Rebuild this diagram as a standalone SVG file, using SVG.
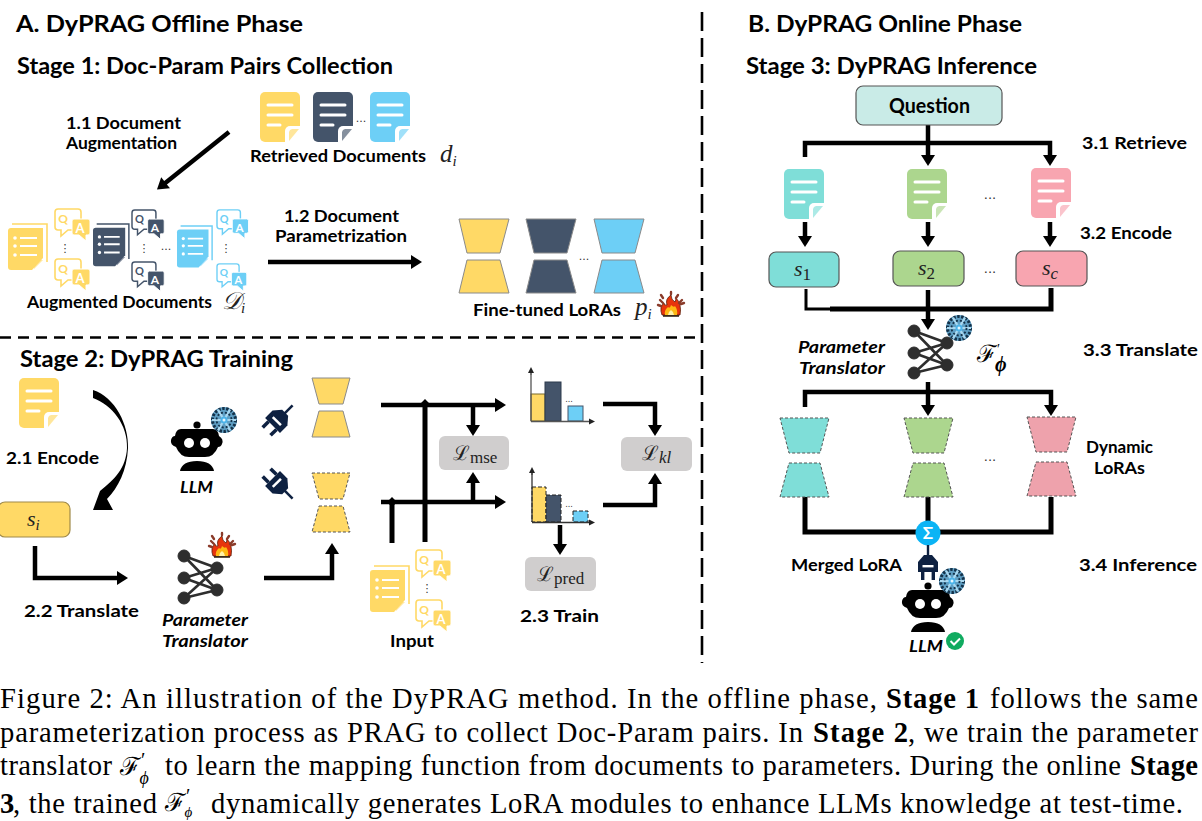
<svg xmlns="http://www.w3.org/2000/svg" xmlns:xlink="http://www.w3.org/1999/xlink" width="1202" height="821" viewBox="0 0 1202 821">
<style>
text{font-family:"Lato","Noto Sans","DejaVu Sans",sans-serif;fill:#000}
.h{font-size:23px;font-weight:700}
.l{font-size:17px;font-weight:700}
.i{font-size:17px;font-weight:700;font-style:italic}
.m{font-family:"Liberation Serif","DejaVu Serif",serif;font-style:italic;font-size:22px;fill:#222}
.mr{font-family:"Liberation Serif","DejaVu Serif",serif;font-style:normal}
.c{font-family:"Liberation Serif",serif;font-size:28.6px}
.cb{font-family:"Liberation Serif",serif;font-size:28.6px;font-weight:700}
.cm{font-family:"Liberation Serif","DejaVu Serif",serif;font-style:normal;font-size:25px}
.q{font-size:12px;font-weight:700;text-anchor:middle}
.a{font-size:13px;font-weight:700;text-anchor:middle;fill:#fff}
.d{font-size:11px;font-family:"DejaVu Sans",sans-serif;fill:#333;text-anchor:middle}
.ar{fill:none;stroke:#000;stroke-width:4.5;marker-end:url(#arr)}
.ln{fill:none;stroke:#000;stroke-width:5}
.sep{fill:none;stroke:#000;stroke-width:2.6}
.box{stroke-width:1.2;stroke:#555}
.loss{fill:#d0cece}
.ls{stroke:#8a8a8a;stroke-width:1}
.ld{stroke:#555;stroke-width:1;stroke-dasharray:3 2}
</style>
<defs>
<marker id="arr" markerUnits="userSpaceOnUse" markerWidth="14" markerHeight="16" refX="2" refY="7" orient="auto" overflow="visible"><path d="M0 0L11 7L0 14z" fill="#000"/></marker>
<marker id="sm" markerUnits="userSpaceOnUse" markerWidth="8" markerHeight="8" refX="1" refY="3" orient="auto" overflow="visible"><path d="M0 0L6 3L0 6z" fill="#222"/></marker>
<g id="doc">
<path d="M5 0H35a5 5 0 0 1 5 5V37L28 50H5a5 5 0 0 1-5-5V5a5 5 0 0 1 5-5z" fill="currentColor"/>
<path d="M8 13H32M8 23H32M8 33H20" stroke="#fff" stroke-width="3" stroke-linecap="round" fill="none"/>
<path d="M40 34H30a5 5 0 0 0-5 5V50H29L40 38z" fill="#fff"/>
<path d="M39 37H32a4 4 0 0 0-3 3V49z" fill="currentColor" fill-opacity=".65"/>
</g>
<g id="stack">
<path d="M4 0H39V38" fill="none" stroke="currentColor" stroke-width="1.6"/>
<path d="M3 4H35V34L24 46H3a3 3 0 0 1-3-3V7a3 3 0 0 1 3-3z" fill="currentColor"/>
<path d="M35 36H26V45z" fill="currentColor" fill-opacity=".6"/>
<path d="M12 14H29M12 22H29M12 31H29" stroke="#fff" stroke-width="2" fill="none"/>
<circle cx="7" cy="14" r="1.8" fill="#fff"/><circle cx="7" cy="22" r="1.8" fill="#fff"/><circle cx="7" cy="31" r="1.8" fill="#fff"/>
</g>
<g id="qa">
<path d="M3 1H23a3 3 0 0 1 3 3V19a3 3 0 0 1-3 3H13L6 28V22H3a3 3 0 0 1-3-3V4a3 3 0 0 1 3-3z" fill="#fff" stroke="currentColor" stroke-width="1.6"/>
<path d="M19 11H33a2 2 0 0 1 2 2V25a2 2 0 0 1-2 2H31V33L24 27H19a2 2 0 0 1-2-2V13a2 2 0 0 1 2-2z" fill="currentColor" stroke="#fff" stroke-width="1"/>
</g>
<g id="lora1"><polygon points="0,0 50,0 41,34 8,34"/><polygon points="8,41 41,41 50,74 0,74"/></g>
<g id="lora2"><polygon points="0,0 38,0 31,26 7,26"/><polygon points="7,33 31,33 38,59 0,59"/></g>
<g id="lora3"><polygon points="0,0 49,0 40,35 9,35"/><polygon points="9,45 40,45 49,79 0,79"/></g>
<g id="net" fill="#2e2e2e" stroke="#2e2e2e">
<path d="M0 0L33 12M0 0L33 34M0 22L33 12M0 22L33 34M0 42L33 12M0 42L33 34" stroke-width="2.6" fill="none"/>
<circle cx="0" cy="0" r="6"/><circle cx="0" cy="22" r="6"/><circle cx="0" cy="42" r="6"/><circle cx="33" cy="12" r="6"/><circle cx="33" cy="34" r="6"/>
</g>
<g id="bot">
<circle cx="0" cy="-17" r="3.6" fill="#000"/>
<path d="M-16 -13H16Q21 -13 22 -6Q27 -3 25 2Q24 5 21 5Q17 15 8 15H-8Q-17 15 -21 5Q-27 3 -26 -2Q-25 -6 -22 -6Q-21 -13 -16 -13z" fill="#000"/>
<circle cx="-8" cy="1" r="5" fill="#fff"/><circle cx="8" cy="1" r="5" fill="#fff"/>
<path d="M-17 29Q-15 19 0 19Q15 19 17 29z" fill="#000"/>
</g>
<g id="snow">
<circle r="13" fill="#5f9fc4"/>
<circle r="11.500" fill="none" stroke="#14324a" stroke-width="3" stroke-dasharray="2.500 1.500"/>
<path d="M-12 0H12M-6-10.400L6 10.400M-6 10.400L6-10.400" stroke="#a9d8f0" stroke-width="2.200"/>
<circle r="7.500" fill="none" stroke="#14324a" stroke-width="1.800" stroke-dasharray="2 2"/>
<circle r="3.500" fill="#4db4ea"/>
<circle r="1.500" fill="#e6f6ff"/>
</g>
<g id="fire">
<path d="M-9 9Q-12 1-7-3Q-7 0-4-1Q-6-7 0-11Q0-6 4-4Q5-6 5-8Q11-2 9 9z" fill="#e8340c" stroke="#5a1a08" stroke-width=".8"/>
<path d="M-6 9Q-7 4-3 1Q-1 3 0-1Q3 2 4 0Q7 4 6 9z" fill="#fdb813"/>
<path d="M-3 9Q-3 6 0 4Q3 6 3 9z" fill="#fff2a8"/>
<rect x="-8" y="9" width="16" height="1.800" fill="#3a2a1a"/>
<path d="M-11-6l3 3M-10-11l2 3M11-6l-3 3M10-2l3-1M7-11l-2 3M-13-1l3 1M0-14l0 2" stroke="#8a3b2a" stroke-width="2.400" stroke-linecap="round"/>
</g>
<g id="plug" fill="#0e2141">
<path d="M0-21V-10" stroke="#0e2141" stroke-width="2.400"/>
<path d="M-10 6V-4L-4-11H4L10-4V6z"/>
<rect x="-7" y="6" width="3.400" height="8"/><rect x="3.600" y="6" width="3.400" height="8"/>
<rect x="-5.500" y="-1" width="11" height="2.400" fill="#fff"/>
</g>
</defs>
<rect width="1202" height="821" fill="#fff"/>

<g id="separators">
<path class="sep" stroke-dasharray="11 7" d="M0 337.500H702"/>
<path class="sep" stroke-dasharray="19 7" d="M702 12V663"/>
</g>

<g id="titles">
<text class="h" x="16" y="32" textLength="287" lengthAdjust="spacingAndGlyphs">A. DyPRAG Offline Phase</text>
<text class="h" x="17" y="74" textLength="376" lengthAdjust="spacingAndGlyphs">Stage 1: Doc-Param Pairs Collection</text>
<text class="h" x="20" y="367" textLength="273" lengthAdjust="spacingAndGlyphs">Stage 2: DyPRAG Training</text>
<text class="h" x="748" y="32" textLength="274" lengthAdjust="spacingAndGlyphs">B. DyPRAG Online Phase</text>
<text class="h" x="746" y="74" textLength="291" lengthAdjust="spacingAndGlyphs">Stage 3: DyPRAG Inference</text>
</g>

<g id="connectors">
<path class="ar" d="M229 132L164 184"/>
<path class="ar" d="M268 262H413"/>
<path d="M93 390C115 397 129 425 128 448C127 470 118 488 107 499L113 510L93 510L100 491C115 479 126 468 127 448C128 425 112 405 93 398z" fill="#000"/>
<path class="ar" d="M35 546V578H119"/>
<path class="ar" d="M264 578H332V552"/>
<path class="ar" d="M381 405H497"/>
<path class="ln" d="M425 403V542"/>
<path class="ar" d="M381 502H497"/>
<path class="ln" d="M392 502V543"/>
<path class="ar" d="M473 405V427"/>
<path class="ar" d="M473 502V481"/>
<path class="ar" d="M603 404H655V427"/>
<path class="ar" d="M603 505H655V482"/>
<path class="ar" d="M560 525V546"/>
<path d="M425 399l5 5-5 5-5-5zM392 497l5 5-5 5-5-5z" fill="#000"/>
<path class="ar" d="M928 125V157"/>
<path class="ar" d="M805 157V143H1050V157"/>
<path class="ar" d="M805 222V238"/>
<path class="ar" d="M928 222V238"/>
<path class="ar" d="M1050 222V238"/>
<path fill="none" stroke="#000" stroke-width="3" d="M806 289V309H830"/>
<path class="ln" d="M830 309H1051V288"/>
<path class="ar" d="M928 290V321"/>
<path class="ar" d="M928 382V407"/>
<path class="ar" d="M805 407V392H1051V407"/>
<path class="ln" d="M805 497V532H1051V497"/>
<path class="ln" d="M928 497V525"/>
</g>

<g id="retrieved-docs">
<use href="#doc" x="260" y="92" color="#FFD966"/>
<use href="#doc" x="313" y="92" color="#44546A"/>
<use href="#doc" x="370" y="92" color="#6DCFF6"/>
<text class="d" x="361" y="122">...</text>
<text class="l" x="250" y="162" textLength="176" lengthAdjust="spacingAndGlyphs">Retrieved Documents</text>
<text class="m" x="440" y="162" style="font-size:25px">d<tspan font-size="15" dy="4">i</tspan></text>
</g>
<g id="label-1-1">
<text class="l" x="66" y="129" textLength="115" lengthAdjust="spacingAndGlyphs">1.1 Document</text>
<text class="l" x="66" y="149" textLength="111" lengthAdjust="spacingAndGlyphs">Augmentation</text>
</g>
<g id="label-1-2">
<text class="l" x="284" y="222" textLength="115" lengthAdjust="spacingAndGlyphs">1.2 Document</text>
<text class="l" x="275" y="242" textLength="132" lengthAdjust="spacingAndGlyphs">Parametrization</text>
</g>

<g id="augmented-docs">
<use href="#stack" transform="translate(8,224)" color="#FFD966"/>
<g transform="translate(55,208)" color="#FFD966"><use href="#qa"/><text class="q" x="8" y="15" style="fill:#FFD966">Q</text><text class="a" x="25" y="25">A</text></g>
<g transform="translate(55,258)" color="#FFD966"><use href="#qa"/><text class="q" x="8" y="15" style="fill:#FFD966">Q</text><text class="a" x="25" y="25">A</text></g>
<text class="d" x="65" y="252">⋮</text>
<use href="#stack" transform="translate(93,224) scale(.92)" color="#44546A"/>
<g transform="translate(132,209) scale(.92)" color="#44546A"><use href="#qa"/><text class="q" x="8" y="15" style="fill:#44546A">Q</text><text class="a" x="25" y="25">A</text></g>
<g transform="translate(132,261) scale(.92)" color="#44546A"><use href="#qa"/><text class="q" x="8" y="15" style="fill:#44546A">Q</text><text class="a" x="25" y="25">A</text></g>
<text class="d" x="144" y="252">⋮</text>
<text class="d" x="166" y="250">...</text>
<use href="#stack" transform="translate(177,226) scale(.9)" color="#6DCFF6"/>
<g transform="translate(217,209) scale(.9)" color="#6DCFF6"><use href="#qa"/><text class="q" x="8" y="15" style="fill:#6DCFF6">Q</text><text class="a" x="25" y="25">A</text></g>
<g transform="translate(217,263) scale(.85)" color="#6DCFF6"><use href="#qa"/><text class="q" x="8" y="15" style="fill:#6DCFF6">Q</text><text class="a" x="25" y="25">A</text></g>
<text class="d" x="226" y="252">⋮</text>
<text class="l" x="27" y="308" textLength="185" lengthAdjust="spacingAndGlyphs">Augmented Documents</text>
<text class="m" x="222" y="309" style="font-size:24px">𝒟<tspan font-size="15" dy="4">i</tspan></text>
</g>

<g id="fine-tuned-loras">
<use href="#lora1" x="459" y="219" fill="#FFD966" class="ls"/>
<use href="#lora1" x="526" y="219" fill="#44546A" class="ls"/>
<use href="#lora1" x="594" y="219" fill="#6DCFF6" class="ls"/>
<text class="d" x="584" y="260">...</text>
<text class="l" x="473" y="316" textLength="148" lengthAdjust="spacingAndGlyphs">Fine-tuned LoRAs</text>
<text class="m" x="635" y="315" style="font-size:25px">p<tspan font-size="15" dy="4">i</tspan></text>
<use href="#fire" x="671" y="306"/>
</g>

<g id="encode-doc">
<use href="#doc" x="19" y="378" color="#FFD966"/>
<text class="l" x="6" y="464" textLength="93" lengthAdjust="spacingAndGlyphs">2.1 Encode</text>
</g>
<g id="node-si">
<rect x="-2" y="502" width="72" height="35" rx="7" fill="#FFD966" stroke="#a08a4a" stroke-width="1.2"/>
<text class="m" x="27" y="526">s<tspan font-size="15" dy="4">i</tspan></text>
</g>
<text class="l" x="24" y="617" textLength="115" lengthAdjust="spacingAndGlyphs">2.2 Translate</text>

<g id="llm-stage2">
<use href="#bot" x="197" y="442"/>
<use href="#snow" x="224" y="420"/>
<text class="i" x="180" y="493" textLength="33" lengthAdjust="spacingAndGlyphs">LLM</text>
</g>
<g id="translator-stage2">
<use href="#net" x="184" y="556"/>
<use href="#fire" x="222" y="547"/>
<text class="i" x="162" y="626" textLength="86" lengthAdjust="spacingAndGlyphs">Parameter</text>
<text class="i" x="162" y="647" textLength="86" lengthAdjust="spacingAndGlyphs">Translator</text>
</g>
<g id="plugs">
<use href="#plug" transform="translate(277,421) rotate(45) scale(1.05)"/>
<use href="#plug" transform="translate(277,483) rotate(135) scale(1.05)"/>
</g>
<g id="lora-fixed"><use href="#lora2" x="312" y="378" fill="#FFD966" class="ls"/></g>
<g id="lora-dynamic"><use href="#lora2" x="312" y="473" fill="#FFD966" class="ld"/></g>

<g id="input">
<use href="#stack" transform="translate(370,566)" color="#FFD966"/>
<g transform="translate(416,549)" color="#FFD966"><use href="#qa"/><text class="q" x="8" y="15" style="fill:#FFD966">Q</text><text class="a" x="25" y="25">A</text></g>
<g transform="translate(416,599)" color="#FFD966"><use href="#qa"/><text class="q" x="8" y="15" style="fill:#FFD966">Q</text><text class="a" x="25" y="25">A</text></g>
<text class="d" x="427" y="592">⋮</text>
<text class="l" x="390" y="647" textLength="44" lengthAdjust="spacingAndGlyphs">Input</text>
</g>

<g id="chart-top">
<rect x="531" y="394" width="14" height="27" fill="#FFD966" stroke="#7a6a2a"/>
<rect x="545" y="382" width="16" height="39" fill="#44546A" stroke="#2c3a4d"/>
<rect x="568" y="406" width="15" height="15" fill="#6DCFF6" stroke="#44546A"/>
<path d="M531 421V373M531 421.500H590" fill="none" stroke="#555" stroke-width="1.300" marker-end="url(#sm)"/>
<path d="M531 375V372" stroke="#555" marker-end="url(#sm)"/>
<text class="d" x="569" y="402" style="font-size:8px">...</text>
</g>
<g id="chart-bottom">
<rect x="532" y="487" width="14" height="35" fill="#FFD966" stroke="#222" stroke-dasharray="4 2"/>
<rect x="546" y="495" width="15" height="27" fill="#44546A" stroke="#222" stroke-dasharray="4 2"/>
<rect x="573" y="511" width="15" height="11" fill="#6DCFF6" stroke="#222" stroke-dasharray="4 2"/>
<path d="M532 522V473M532 522.500H590" fill="none" stroke="#333" stroke-width="1.300" marker-end="url(#sm)"/>
<path d="M532 475V472" stroke="#333" marker-end="url(#sm)"/>
<text class="d" x="569" y="507" style="font-size:8px">...</text>
</g>
<g id="loss-mse"><rect class="loss" x="439" y="436" width="70" height="34" rx="6"/><text class="m" x="453" y="460" style="font-size:20px;font-style:normal">ℒ<tspan class="mr" font-size="17" dy="3">mse</tspan></text></g>
<g id="loss-kl"><rect class="loss" x="621" y="437" width="71" height="34" rx="6"/><text class="m" x="642" y="460" style="font-size:20px;font-style:normal">ℒ<tspan font-size="17" font-style="italic" dy="3">kl</tspan></text></g>
<g id="loss-pred"><rect class="loss" x="525" y="557" width="71" height="34" rx="6"/><text class="m" x="537" y="581" style="font-size:20px;font-style:normal">ℒ<tspan class="mr" font-size="17" dy="3">pred</tspan></text></g>
<text class="l" x="520" y="622" textLength="79" lengthAdjust="spacingAndGlyphs">2.3 Train</text>

<g id="node-question">
<rect class="box" x="856" y="86" width="146" height="39" rx="7" fill="#c9ebe7"/>
<text x="889" y="113" font-size="20" font-weight="700" textLength="81" lengthAdjust="spacingAndGlyphs">Question</text>
</g>
<text class="l" x="1082" y="149" textLength="105" lengthAdjust="spacingAndGlyphs">3.1 Retrieve</text>
<text class="l" x="1080" y="239" textLength="92" lengthAdjust="spacingAndGlyphs">3.2 Encode</text>
<text class="l" x="1083" y="356" textLength="115" lengthAdjust="spacingAndGlyphs">3.3 Translate</text>
<text class="l" x="1079" y="571" textLength="118" lengthAdjust="spacingAndGlyphs">3.4 Inference</text>

<g id="doc-1"><use href="#doc" x="784" y="169" color="#7FDED8"/></g>
<g id="doc-2"><use href="#doc" x="907" y="169" color="#ACD68E"/></g>
<g id="doc-c"><use href="#doc" x="1031" y="168" color="#F8A5B0"/></g>
<text class="d" x="990" y="199" style="font-size:13px">...</text>
<g id="node-s1"><rect class="box" x="769" y="252" width="70" height="35" rx="7" fill="#7FDED8"/><text class="m" x="794" y="276">s<tspan class="mr" font-size="17" dy="4">1</tspan></text></g>
<g id="node-s2"><rect class="box" x="893" y="251" width="71" height="35" rx="7" fill="#ACD68E"/><text class="m" x="918" y="275">s<tspan class="mr" font-size="17" dy="4">2</tspan></text></g>
<g id="node-sc"><rect class="box" x="1016" y="251" width="71" height="35" rx="7" fill="#F8A5B0"/><text class="m" x="1042" y="275">s<tspan font-size="17" dy="4">c</tspan></text></g>
<text class="d" x="990" y="273" style="font-size:13px">...</text>

<g id="translator-stage3">
<use href="#net" x="914" y="331"/>
<use href="#snow" x="959" y="328"/>
<text class="i" x="798" y="353" textLength="87" lengthAdjust="spacingAndGlyphs">Parameter</text>
<text class="i" x="799" y="374" textLength="86" lengthAdjust="spacingAndGlyphs">Translator</text>
<text class="cm" x="977" y="362" style="font-size:24px">ℱ<tspan font-size="14" dy="-8">′</tspan><tspan font-size="20" font-weight="700" font-style="italic" dx="-5" dy="17">ϕ</tspan></text>
</g>

<g id="lora-teal"><use href="#lora3" x="780" y="418" fill="#7FDED8" class="ld"/></g>
<g id="lora-green"><use href="#lora3" x="904" y="418" fill="#ACD68E" class="ld"/></g>
<g id="lora-pink"><use href="#lora3" x="1027" y="417" fill="#EEA2AC" class="ld"/></g>
<text class="d" x="990" y="461" style="font-size:13px">...</text>
<text class="l" x="1086" y="453" textLength="67" lengthAdjust="spacingAndGlyphs">Dynamic</text>
<text class="l" x="1094" y="474" textLength="51" lengthAdjust="spacingAndGlyphs">LoRAs</text>

<g id="merge">
<circle cx="928" cy="533" r="12.500" fill="#0BB4F5"/>
<text x="928" y="539" font-size="17" font-weight="700" text-anchor="middle" style="fill:#fff">Σ</text>
</g>
<g id="merged-plug"><use href="#plug" transform="translate(928,566)"/></g>
<text class="l" x="791" y="571" textLength="111" lengthAdjust="spacingAndGlyphs">Merged LoRA</text>
<g id="llm-stage3">
<use href="#bot" x="928" y="603"/>
<use href="#snow" x="952" y="581"/>
<text class="i" x="909" y="652" textLength="34" lengthAdjust="spacingAndGlyphs">LLM</text>
<circle cx="955" cy="641" r="9" fill="#10AB60"/>
<path d="M950.500 641L954 644.500L960 638.500" fill="none" stroke="#fff" stroke-width="2"/>
</g>

<g id="caption">
<text class="c" x="0" y="708" textLength="877" lengthAdjust="spacing">Figure 2: An illustration of the DyPRAG method. In the offline phase,</text>
<text class="cb" x="886" y="708" textLength="93" lengthAdjust="spacing">Stage 1</text>
<text class="c" x="990" y="708" textLength="208" lengthAdjust="spacing">follows the same</text>
<text class="c" x="0" y="742" textLength="803" lengthAdjust="spacing">parameterization process as PRAG to collect Doc-Param pairs. In</text>
<text class="cb" x="813" y="742" textLength="95" lengthAdjust="spacing">Stage 2</text>
<text class="c" x="908" y="742" textLength="290" lengthAdjust="spacing">, we train the parameter</text>
<text class="c" x="0" y="775" textLength="112" lengthAdjust="spacing">translator</text>
<text class="cm" x="120" y="775">ℱ<tspan font-size="20" dy="-8">′</tspan><tspan font-size="18" font-style="italic" dx="-6" dy="17">ϕ</tspan></text>
<text class="c" x="165" y="775" textLength="956" lengthAdjust="spacing">to learn the mapping function from documents to parameters. During the online</text>
<text class="cb" x="1130" y="775" textLength="68" lengthAdjust="spacing">Stage</text>
<text class="cb" x="0" y="813">3</text>
<text class="c" x="13" y="813" textLength="144" lengthAdjust="spacing">, the trained</text>
<text class="cm" x="165" y="811">ℱ<tspan font-size="20" dy="-8">′</tspan><tspan font-size="15" font-style="italic" dx="-6" dy="14">ϕ</tspan></text>
<text class="c" x="211" y="813" textLength="972" lengthAdjust="spacing">dynamically generates LoRA modules to enhance LLMs knowledge at test-time.</text>
</g>
</svg>
